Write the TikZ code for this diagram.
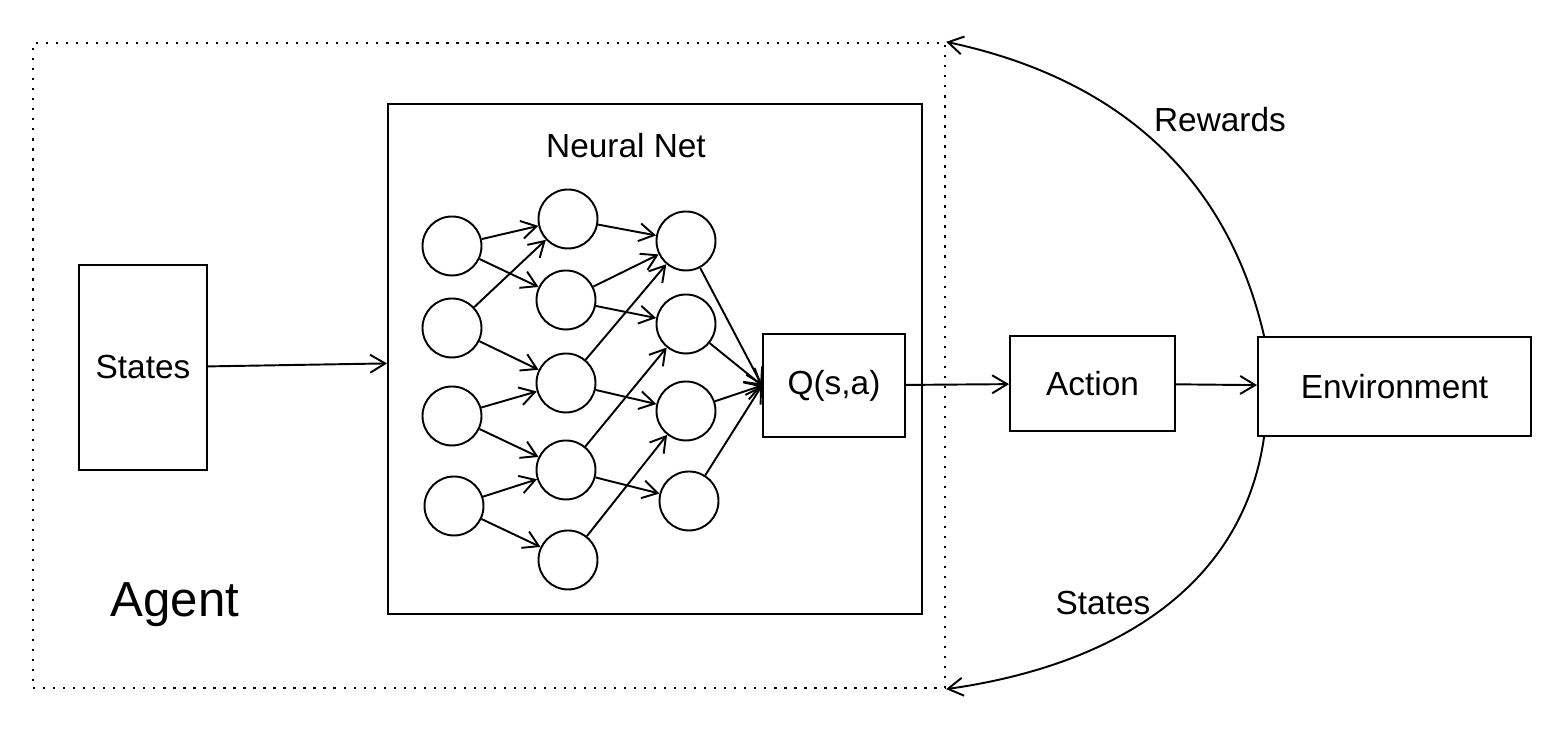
\documentclass[tikz,border=0pt]{standalone}
\usepackage{fontspec}
\setmainfont{Liberation Sans}
\usepackage{tikz}
\usetikzlibrary{positioning,arrows.meta}

\begin{document}
\begin{tikzpicture}[
line width=1.1pt,
>={Straight Barb[length=3mm,width=3.6mm]},
box/.style={draw,rectangle,inner sep=0pt,font=\fontsize{19}{22}\selectfont},
neuron/.style={draw,circle,minimum size=1.18cm,inner sep=0pt},
txt/.style={font=\fontsize{19}{22}\selectfont}]
\useasboundingbox (0,0) rectangle (31.16,14.96);
% agent frame
\node (agent) [draw,rectangle,minimum width=18.24cm,minimum height=12.9cm,
    line width=1.3pt,dash pattern=on 1.3pt off 4.4pt] at (9.78,7.65) {};
\node (agentlbl) [font=\fontsize{28}{32}\selectfont] at (3.5,2.86) {Agent};
\node (states) [box,minimum width=2.56cm,minimum height=4.1cm] at (2.86,7.61) {States};
\node (net) [box,minimum width=10.68cm,minimum height=10.2cm] at (13.1,7.78) {};
\node (netlbl) [txt] at (12.52,12.04) {Neural Net};
\node (q) [box,minimum width=2.84cm,minimum height=2.06cm] at (16.68,7.25) {Q(s,a)};
\node (action) [box,minimum width=3.3cm,minimum height=1.9cm] at (21.85,7.29) {Action};
\node (env) [box,minimum width=5.46cm,minimum height=1.98cm] at (27.89,7.23) {Environment};
% input layer
\node (i1) [neuron] at (9.04,10.04) {};
\node (i2) [neuron] at (9.04,8.40) {};
\node (i3) [neuron] at (9.04,6.64) {};
\node (i4) [neuron] at (9.08,4.84) {};
% hidden layer
\node (h1) [neuron] at (11.36,10.58) {};
\node (h2) [neuron] at (11.32,8.96) {};
\node (h3) [neuron] at (11.32,7.30) {};
\node (h4) [neuron] at (11.32,5.56) {};
\node (h5) [neuron] at (11.36,3.76) {};
% last layer
\node (o1) [neuron] at (13.72,10.14) {};
\node (o2) [neuron] at (13.72,8.48) {};
\node (o3) [neuron] at (13.72,6.74) {};
\node (o4) [neuron] at (13.78,4.94) {};
\draw[->] (i1) -- (h1);
\draw[->] (i1) -- (h2);
\draw[->] (i2) -- (h1);
\draw[->] (i2) -- (h3);
\draw[->] (i3) -- (h3);
\draw[->] (i3) -- (h4);
\draw[->] (i4) -- (h4);
\draw[->] (i4) -- (h5);
\draw[->] (h1) -- (o1);
\draw[->] (h2) -- (o1);
\draw[->] (h2) -- (o2);
\draw[->] (h3) -- (o1);
\draw[->] (h3) -- (o3);
\draw[->] (h4) -- (o2);
\draw[->] (h4) -- (o4);
\draw[->] (h5) -- (o3);
\draw[->] (o1) -- (q.west);
\draw[->] (o2) -- (q.west);
\draw[->] (o3) -- (q.west);
\draw[->] (o4) -- (q.west);
% flow
\draw[->] (states) -- (net);
\draw[->] (q) -- (action);
\draw[->] (action) -- (env);
\draw[->] ([xshift=4pt]env.north west) to[out=103,in=-12] (agent.north east);
\draw[->] ([xshift=4pt]env.south west) to[out=-98,in=8] (agent.south east);
\node (rew) [txt] at (24.4,12.56) {Rewards};
\node (back) [txt] at (22.06,2.9) {States};
\end{tikzpicture}
\end{document}
